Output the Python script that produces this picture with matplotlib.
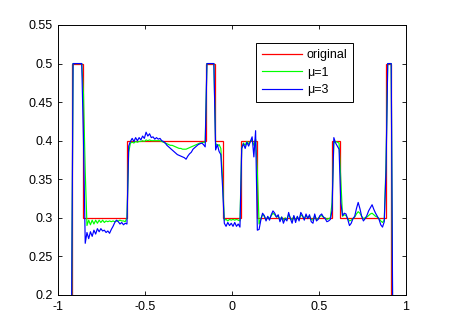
import numpy as np
import matplotlib
matplotlib.use("Agg")
import matplotlib.pyplot as plt

plt.rcParams['font.family'] = ['Liberation Sans', 'DejaVu Sans']

# original step profile: edges and level in each piece
orig_edges = [-1, -0.92, -0.857, -0.603, -0.152, -0.1, -0.055, 0.049, 0.143,
              0.576, 0.622, 0.887, 0.912, 1]
orig_levels = [0, 0.5, 0.3, 0.4, 0.5, 0.4, 0.3, 0.4, 0.3, 0.4, 0.3, 0.5, 0]

# sample grid of the reconstructions
x = np.linspace(-0.925, 0.925, 186)

# mu=3 (blue)
mu3 = [0.12,
       0.5, 0.5, 0.5, 0.5, 0.5, 0.5,
       0.40, 0.267,
       0.281, 0.273, 0.282, 0.276, 0.284, 0.279, 0.286, 0.282, 0.286, 0.283,
       0.284, 0.281, 0.283, 0.280, 0.285, 0.289, 0.294, 0.297, 0.295, 0.292,
       0.294, 0.291, 0.293,
       0.292, 0.393,
       0.399, 0.403, 0.399, 0.404, 0.400, 0.404, 0.401, 0.406, 0.403, 0.411,
       0.406, 0.409, 0.404, 0.405, 0.402, 0.404, 0.402, 0.403, 0.400, 0.399,
       0.397, 0.394, 0.392, 0.390, 0.388, 0.386, 0.384, 0.382, 0.381, 0.380,
       0.379, 0.378, 0.376, 0.380, 0.383, 0.385, 0.389, 0.391, 0.393, 0.395,
       0.396, 0.397, 0.395, 0.392,
       0.5, 0.5, 0.5, 0.5, 0.5,
       0.388, 0.395, 0.386, 0.382,
       0.34,
       0.293, 0.289, 0.294, 0.290, 0.293, 0.289, 0.294, 0.289, 0.292, 0.288,
       0.390, 0.396, 0.390, 0.398, 0.393, 0.399, 0.405, 0.379, 0.413,
       0.284,
       0.285, 0.297, 0.306, 0.303, 0.296, 0.302, 0.297, 0.304, 0.309, 0.306,
       0.301, 0.304, 0.295, 0.301, 0.293, 0.299, 0.296, 0.307, 0.299, 0.293,
       0.303, 0.294, 0.302, 0.296, 0.307, 0.303, 0.297, 0.305, 0.299, 0.304,
       0.295, 0.293, 0.305, 0.296, 0.298, 0.303, 0.305, 0.301, 0.299, 0.295,
       0.296, 0.298,
       0.31,
       0.404, 0.397, 0.393, 0.389,
       0.32,
       0.303, 0.306, 0.305, 0.298, 0.290, 0.293, 0.299, 0.302, 0.312, 0.320,
       0.312, 0.302, 0.296, 0.299, 0.303, 0.309, 0.313, 0.317, 0.311, 0.306,
       0.302, 0.298, 0.291, 0.288, 0.295,
       0.36,
       0.5, 0.5, 0.5,
       0.12]

# mu=1 (green)
mu1 = [0.10,
       0.5, 0.5, 0.5, 0.5, 0.5, 0.5,
       0.46, 0.36,
       0.290, 0.297, 0.291, 0.297, 0.292, 0.297, 0.293, 0.297, 0.294, 0.297,
       0.294, 0.296, 0.295, 0.296, 0.295, 0.296, 0.295, 0.296, 0.296, 0.297,
       0.296, 0.296, 0.295,
       0.300, 0.385,
       0.397, 0.398, 0.397, 0.399, 0.398, 0.399, 0.399, 0.400, 0.399, 0.401,
       0.400, 0.401, 0.400, 0.400, 0.400, 0.400, 0.400, 0.400, 0.399, 0.398,
       0.397, 0.396, 0.395, 0.394, 0.394, 0.393, 0.392, 0.391, 0.390, 0.390,
       0.389, 0.389, 0.389, 0.390, 0.391, 0.392, 0.393, 0.394, 0.395, 0.396,
       0.397, 0.397, 0.398, 0.398,
       0.5, 0.5, 0.5, 0.5, 0.5,
       0.397, 0.393, 0.395, 0.390,
       0.35,
       0.297, 0.298, 0.296, 0.298, 0.297, 0.298, 0.297, 0.298, 0.297, 0.296,
       0.390, 0.397, 0.394, 0.399, 0.396, 0.399, 0.401, 0.394, 0.402,
       0.36,
       0.292, 0.299, 0.304, 0.302, 0.298, 0.301, 0.299, 0.303, 0.306, 0.304,
       0.301, 0.302, 0.298, 0.301, 0.297, 0.300, 0.298, 0.304, 0.300, 0.297,
       0.302, 0.297, 0.301, 0.298, 0.304, 0.302, 0.299, 0.303, 0.300, 0.302,
       0.298, 0.297, 0.303, 0.298, 0.299, 0.302, 0.303, 0.301, 0.300, 0.298,
       0.299, 0.300,
       0.32,
       0.397, 0.399, 0.398, 0.397,
       0.35,
       0.302, 0.304, 0.303, 0.299, 0.296, 0.297, 0.299, 0.301, 0.305, 0.308,
       0.306, 0.302, 0.299, 0.300, 0.301, 0.303, 0.305, 0.306, 0.304, 0.302,
       0.301, 0.299, 0.296, 0.294, 0.297,
       0.37,
       0.5, 0.5, 0.5,
       0.10]

xticks = [-1, -0.5, 0, 0.5, 1]
xtick_labels = ["-1", "-0.5", "0", "0.5", "1"]
yticks = [0.2, 0.25, 0.3, 0.35, 0.4, 0.45, 0.5, 0.55]
ytick_labels = ["0.2", "0.25", "0.3", "0.35", "0.4", "0.45", "0.5", "0.55"]

fig = plt.figure(figsize=(4.49, 3.31), dpi=100)
ax = fig.add_axes([0.1298, 0.1088, 0.7744, 0.8157])

ax.stairs(orig_levels, orig_edges, baseline=None, color="#ff0000", lw=0.9,
          label="original")
ax.plot(x, mu1, color="#00ff00", lw=0.85, label="\u03bc=1")
ax.plot(x, mu3, color="#0000ff", lw=0.85, label="\u03bc=3")

ax.set_xlim(-1, 1)
ax.set_ylim(0.2, 0.55)
ax.set_xticks(xticks)
ax.set_xticklabels(xtick_labels)
ax.set_yticks(yticks)
ax.set_yticklabels(ytick_labels)
ax.tick_params(direction="in", top=True, right=True, length=3, width=0.6,
               labelsize=9, pad=4)
for s in ax.spines.values():
    s.set_linewidth(0.7)

leg = ax.legend(loc="upper left", bbox_to_anchor=(0.569, 0.932), fontsize=9,
                fancybox=False, framealpha=1, edgecolor="k", handlelength=3.2,
                labelspacing=0.45, borderpad=0.45, handletextpad=0.4,
                borderaxespad=0)
leg.get_frame().set_linewidth(0.7)

fig.savefig("out.png", dpi=100)
